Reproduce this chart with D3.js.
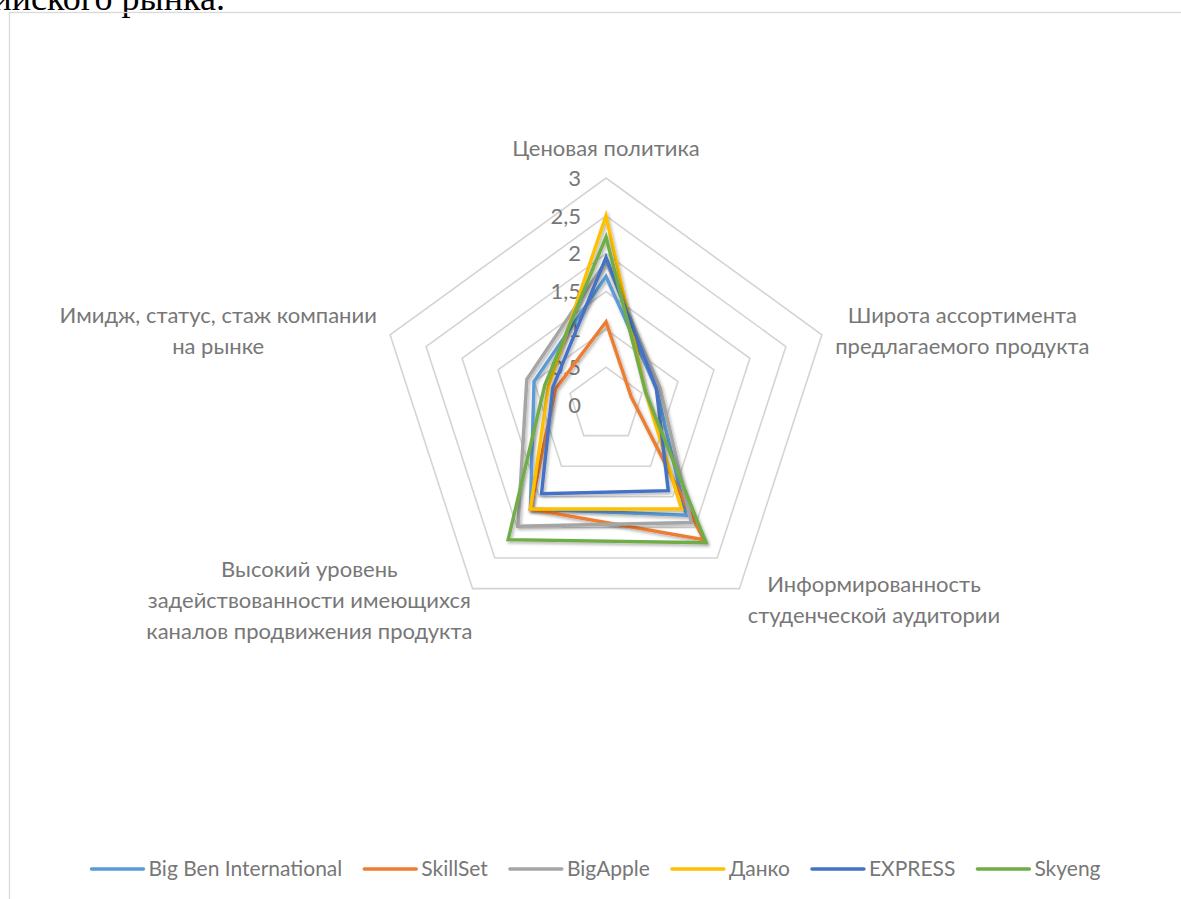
<!DOCTYPE html>
<html>
<head>
<meta charset="utf-8">
<script src="https://cdn.jsdelivr.net/npm/d3@7"></script>
<style>
    body { margin: 0; background: #fff; }
    svg text { font-family: Lato, "Open Sans", sans-serif; fill: #777777; }
    .doc-text { font-family: "Liberation Serif", serif; fill: #000; }
</style>
</head>
<body>
<div id="chart"></div>
<script>

// categories (one entry per axis, split into label lines)
var categories = [
    ["Ценовая политика"],
    ["Широта ассортимента", "предлагаемого продукта"],
    ["Информированность", "студенческой аудитории"],
    ["Высокий уровень", "задействованности имеющихся", "каналов продвижения продукта"],
    ["Имидж, статус, стаж компании", "на рынке"]
];

var seriesNames = ["Big Ben International", "SkillSet", "BigApple", "Данко", "EXPRESS", "Skyeng"];
var seriesColors = ["#5B9BD5", "#ED7D31", "#A5A5A5", "#FFC000", "#4472C4", "#70AD47"];

var bigBen   = [1.7, 0.7, 1.8, 1.7, 1.0];
var skillSet = [1.1, 0.35, 2.2, 1.7, 0.7];
var bigApple = [1.9, 0.75, 1.92, 1.98, 1.1];
var danko    = [2.5, 0.55, 1.7, 1.7, 0.8];
var express  = [1.95, 0.7, 1.4, 1.45, 0.74];
var skyeng   = [2.22, 0.55, 2.25, 2.2, 0.85];

var seriesValues = [bigBen, skillSet, bigApple, danko, express, skyeng];

var tickValues = [0, 0.5, 1, 1.5, 2, 2.5, 3];
var gridValues = [0.5, 1, 1.5, 2, 2.5, 3];


const width = 1181,
    height = 899,
    cx = 606,
    cy = 405,
    radius = 227;

const svg = d3.select("#chart")
    .append("svg")
    .attr("width", width)
    .attr("height", height);

var defs = svg.append("defs");
defs.append("filter")
    .attr("id", "shadow")
    .attr("x", "-10%").attr("y", "-10%")
    .attr("width", "130%").attr("height", "130%")
    .append("feDropShadow")
    .attr("dx", 1.5)
    .attr("dy", 2)
    .attr("stdDeviation", 1.4)
    .attr("flood-color", "#000")
    .attr("flood-opacity", 0.3);

// text of the document above the chart, cut by the page
svg.append("text")
    .attr("class", "doc-text")
    .attr("x", 225)
    .attr("y", 10)
    .attr("text-anchor", "end")
    .style("font-size", "36px")
    .text("российского рынка.");

// chart area border
svg.append("rect")
    .attr("x", 9.5)
    .attr("y", 12.5)
    .attr("width", width + 20)
    .attr("height", height + 20)
    .style("fill", "none")
    .style("stroke", "#D9D9D9")
    .style("stroke-width", 1.3);

var g = svg.append("g")
    .attr("transform", "translate(" + cx + "," + cy + ")");

var rScale = d3.scaleLinear()
    .domain([0, 3])
    .range([0, radius]);

var angle = d3.scaleLinear()
    .domain([0, categories.length])
    .range([0, 2 * Math.PI]);

var axisIdx = d3.range(categories.length);

// grid pentagons
var gridLine = d3.lineRadial()
    .angle(function (d) { return angle(d); })
    .curve(d3.curveLinearClosed);

g.selectAll("path.grid")
    .data(gridValues)
    .enter()
    .append("path")
    .attr("class", "grid")
    .attr("d", function (v) {
        return gridLine.radius(rScale(v))(axisIdx);
    })
    .style("fill", "none")
    .style("stroke", "#D4D4D4")
    .style("stroke-width", 1.6);

// tick labels along the top axis
var fmt = d3.formatLocale({decimal: ",", thousands: " ", grouping: [3], currency: ["", ""]}).format("~g");

g.selectAll("text.tick")
    .data(tickValues)
    .enter()
    .append("text")
    .attr("class", "tick")
    .attr("x", -25)
    .attr("y", function (d) { return -rScale(d); })
    .attr("dy", "0.35em")
    .attr("text-anchor", "end")
    .style("font-size", "22px")
    .text(function (d) { return fmt(d); });

// series
var line = d3.lineRadial()
    .angle(function (d, i) { return angle(i); })
    .radius(function (d) { return rScale(d); })
    .curve(d3.curveLinearClosed);

g.selectAll("path.series")
    .data(seriesValues)
    .enter()
    .append("path")
    .attr("class", "series")
    .attr("d", function (d) { return line(d); })
    .attr("filter", "url(#shadow)")
    .style("fill", "none")
    .style("stroke", function (d, i) { return seriesColors[i]; })
    .style("stroke-width", 3.4)
    .style("stroke-linejoin", "miter");

// category labels
var lineH = 31,
    labelPad = 14,
    labelNudge = [0, 0, 0, 8, 0];

g.selectAll("g.cat")
    .data(categories)
    .enter()
    .append("g")
    .attr("class", "cat")
    .each(function (lines, i) {
        var a = angle(i),
            r = rScale(3) + labelPad,
            ax = Math.sin(a) * r + labelNudge[i],
            ay = -Math.cos(a) * r;

        var texts = d3.select(this).selectAll("text")
            .data(lines)
            .enter()
            .append("text")
            .attr("text-anchor", "middle")
            .style("font-size", "22px")
            .text(function (d) { return d; });

        var blockW = d3.max(texts.nodes(), function (n) { return n.getComputedTextLength(); });
        var blockH = lines.length * lineH;

        var x0;
        if (Math.sin(a) > 0.1) x0 = ax + blockW / 2;
        else if (Math.sin(a) < -0.1) x0 = ax - blockW / 2;
        else x0 = ax;

        var top;
        if (Math.cos(a) > 0.9) top = ay - blockH;
        else top = ay - blockH / 2;

        texts
            .attr("x", x0)
            .attr("y", function (d, k) { return top + k * lineH + lineH / 2; })
            .attr("dy", "0.35em");
    });

// legend
var legend = svg.append("g")
    .attr("class", "legend")
    .attr("transform", "translate(0,869)");

var items = legend.selectAll("g.item")
    .data(seriesNames)
    .enter()
    .append("g")
    .attr("class", "item");

items.append("line")
    .attr("x1", 0)
    .attr("x2", 52)
    .attr("y1", 0)
    .attr("y2", 0)
    .style("stroke", function (d, i) { return seriesColors[i]; })
    .style("stroke-width", 3.4)
    .style("stroke-linecap", "round");

items.append("text")
    .attr("x", 57)
    .attr("dy", "0.35em")
    .style("font-size", "21px")
    .text(function (d) { return d; });

var offsets = [], pos = 0, gap = 22;
items.each(function () {
    var w = 57 + d3.select(this).select("text").node().getComputedTextLength();
    offsets.push(pos);
    pos += w + gap;
});
var total = pos - gap;
var startX = 596 - total / 2;

items.attr("transform", function (d, i) {
    return "translate(" + (startX + offsets[i]) + ",0)";
});

</script>
</body>
</html>
